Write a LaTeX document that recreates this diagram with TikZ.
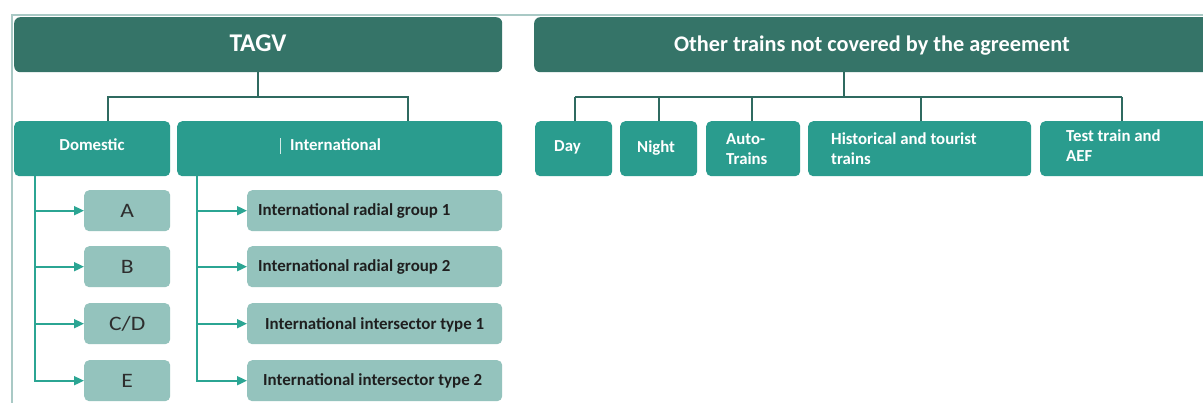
\documentclass[tikz,border=0pt]{standalone}
\usepackage{fontspec}
\setmainfont{Carlito}
\usetikzlibrary{arrows.meta}
\definecolor{tealdark}{HTML}{357468}
\definecolor{tealmid}{HTML}{2A9C8E}
\definecolor{teallight}{HTML}{94C3BD}
\definecolor{linkdark}{HTML}{2F6A60}
\definecolor{linkbright}{HTML}{2BA593}
\definecolor{framegray}{HTML}{A9C9C5}
\newcommand{\widetext}[1]{\scalebox{1.15}[1]{#1}}
\tikzset{
  headbox/.style={fill=tealdark, rounded corners=6pt, inner sep=0pt, anchor=north west},
  catbox/.style={fill=tealmid, rounded corners=5pt, inner sep=0pt, anchor=north west},
  subbox/.style={fill=teallight, rounded corners=5pt, inner sep=0pt, anchor=north west},
  letterbox/.style={subbox, font=\fontsize{20.5}{24}\selectfont, text=black!82},
  cattxt/.style={text=white, font=\bfseries\fontsize{16.8}{20}\selectfont, inner sep=0pt},
  subtxt/.style={font=\bfseries\fontsize{16.9}{20}\selectfont, text=black!88, anchor=west, inner sep=0pt},
  treeline/.style={draw=linkdark, line width=1.8pt},
  branch/.style={draw=linkbright, line width=1.8pt, -{Triangle[length=10pt,width=9pt]}},
}
\begin{document}
\begin{tikzpicture}[x=1pt,y=-1pt]
\useasboundingbox (0,0) rectangle (1203,403);
\fill[white] (0,0) rectangle (1203,403);
% page frame
\draw[framegray, line width=1.2pt] (12,403) -- (12,15) -- (1203,15);

% ---- TAGV tree ----
\node[headbox, minimum width=488pt, minimum height=55pt] (tagv) at (14,17) {};
\node[text=white, font=\bfseries\fontsize{25.5}{28}\selectfont, inner sep=0pt] (tagvtxt) at (258,43) {TAGV};

\node[catbox, minimum width=156pt, minimum height=55pt] (dom) at (14,121) {};
\node[cattxt] (domtxt) at (92,145) {Domestic};
\node[catbox, minimum width=325pt, minimum height=55pt] (intl) at (177,121) {};
\node[cattxt, anchor=west] (intltxt) at (290,145) {International};
\draw[white!80!tealmid, line width=0.6pt] (280,138) -- (280,154);

\coordinate (tagvjoin) at (258,97);
\draw[treeline] (tagv.south -| tagvjoin) -- (tagvjoin);
\draw[treeline] (tagvjoin) -| (dom.north -| 108,0);
\draw[treeline] (tagvjoin) -| (intl.north -| 408,0);

% domestic groups
\node[letterbox, minimum width=86pt, minimum height=41pt] (ga) at (84,190) {\widetext{A}};
\node[letterbox, minimum width=86pt, minimum height=41pt] (gb) at (84,246) {\widetext{B}};
\node[letterbox, minimum width=86pt, minimum height=41pt] (gcd) at (84,303) {\widetext{C/D}};
\node[letterbox, minimum width=86pt, minimum height=41pt] (ge) at (84,360) {\widetext{E}};
\coordinate (domtrunk) at (35,176);
\foreach \g in {ga,gb,gcd,ge}
  \draw[branch] (domtrunk) |- (\g.west);

% international groups
\node[subbox, minimum width=255pt, minimum height=41pt] (ir1) at (247,190) {};
\node[subbox, minimum width=255pt, minimum height=41pt] (ir2) at (247,246) {};
\node[subbox, minimum width=255pt, minimum height=41pt] (ii1) at (247,303) {};
\node[subbox, minimum width=255pt, minimum height=41pt] (ii2) at (247,360) {};
\node[subtxt] (ir1txt) at (258,211) {International radial group 1};
\node[subtxt] (ir2txt) at (258,267) {International radial group 2};
\node[subtxt] (ii1txt) at (265,325) {International intersector type 1};
\node[subtxt] (ii2txt) at (263,381) {International intersector type 2};
\coordinate (intltrunk) at (197,176);
\foreach \g in {ir1,ir2,ii1,ii2}
  \draw[branch] (intltrunk) |- (\g.west);

% ---- Other trains tree ----
\node[headbox, minimum width=700pt, minimum height=55pt] (other) at (534,17) {};
\node[text=white, font=\bfseries\fontsize{22.3}{26}\selectfont, inner sep=0pt] (othertxt) at (872,46) {Other trains not covered by the agreement};

\tikzset{small/.style={catbox, minimum height=55pt}}
\node[small, minimum width=77pt] (day) at (535,121) {};
\node[small, minimum width=77pt] (night) at (620,121) {};
\node[small, minimum width=94pt] (auto) at (706,121) {};
\node[small, minimum width=223pt] (hist) at (808,121) {};
\node[small, minimum width=200pt] (test) at (1040,121) {};

\tikzset{smalltxt/.style={cattxt, anchor=west, align=left}}
\node[smalltxt] (daytxt) at (554,147) {Day};
\node[smalltxt] (nighttxt) at (637,148) {Night};
\node[smalltxt] (autotxt) at (726,149) {Auto-\\Trains};
\node[smalltxt] (histtxt) at (831,149) {Historical and tourist\\trains};
\node[smalltxt] (testtxt) at (1066,146) {Test train and\\AEF};

\coordinate (otherjoin) at (844,97);
\draw[treeline] (other.south -| otherjoin) -- (otherjoin);
\draw[treeline] (575,97) -- (1122,97);
\foreach \b/\x in {day/575,night/659,auto/752,hist/921,test/1122}
  \draw[treeline] (\x,97) -- (\b.north -| \x,0);
\end{tikzpicture}
\end{document}
